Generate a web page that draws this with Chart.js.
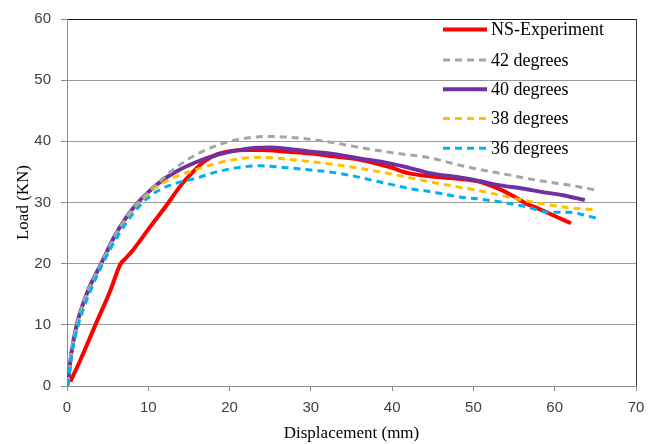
<!DOCTYPE html>
<html>
<head>
<meta charset="utf-8">
<script src="https://cdn.jsdelivr.net/npm/chart.js@4.4.1/dist/chart.umd.min.js"></script>
<style>
  html, body { margin: 0; padding: 0; background: #fff; }
  #wrap { width: 659px; height: 444px; }
</style>
</head>
<body>
<div id="wrap"><canvas id="loadChart" width="659" height="444"></canvas></div>
<script>
// load - displacement curves
const seriesNames = ['NS-Experiment', '42 degrees', '40 degrees', '38 degrees', '36 degrees'];

const expX = [0.4, 1.5, 3.5, 5.3, 6.6, 7.1, 8.1, 10, 12.5, 14, 15.5, 17, 18.5, 20, 22, 24, 27, 30, 33, 36, 39.7, 42, 44.6, 47, 50.4, 53, 55, 56.5, 58, 60, 62];
const expY = [0.7, 3.8, 10, 15.5, 20, 20.7, 22.2, 25.6, 30, 32.8, 35, 36.8, 37.9, 38.4, 38.6, 38.6, 38.3, 38, 37.5, 37, 35.8, 34.8, 34.3, 34, 33.5, 32.3, 31, 29.8, 29, 27.8, 26.6];

const deg42X = [0.1, 0.5, 1.2, 2.5, 4.2, 5.9, 7, 8.4, 10, 11.6, 13.5, 15.7, 18.4, 21, 24.6, 28, 32.7, 36, 39.7, 44.6, 48.3, 50.4, 54, 58, 62, 65.2];
const deg42Y = [0.3, 5, 10, 15.3, 20, 24.6, 27, 29.5, 31.7, 33.7, 35.8, 37.7, 39.3, 40.3, 40.8, 40.6, 39.8, 39, 38.2, 37.3, 36.1, 35.5, 34.6, 33.6, 32.8, 32];

const deg40X = [0.1, 0.5, 1.2, 2.5, 4.2, 5.9, 7, 8.4, 10, 11.6, 13.5, 15.7, 18.5, 21.3, 23, 25, 27, 30, 32.3, 36, 39.7, 42, 44.6, 48.3, 50.4, 53.3, 56, 58.5, 61, 63.7];
const deg40Y = [0.3, 5, 10, 15.3, 20, 24.6, 27, 29.5, 31.7, 33.5, 35.1, 36.5, 37.8, 38.6, 38.9, 39, 38.8, 38.3, 38, 37.2, 36.4, 35.7, 34.8, 34.1, 33.6, 32.8, 32.3, 31.7, 31.2, 30.4];

const deg38X = [0.1, 0.5, 1.3, 2.6, 4.3, 6, 7.1, 8.5, 10, 11.6, 13.5, 15.7, 18.4, 21, 23.7, 27, 32.3, 36, 39.7, 44.6, 48.3, 50.4, 53.3, 56, 58.5, 62, 65.2];
const deg38Y = [0.3, 5, 10, 15.3, 20, 24.5, 26.9, 29.3, 31.4, 33, 34.3, 35.3, 36.4, 37.1, 37.4, 37.1, 36.3, 35.6, 34.7, 33.4, 32.5, 32, 31.2, 30.4, 29.8, 29.1, 28.8];

const deg36X = [0.1, 0.55, 1.4, 2.8, 4.4, 6.1, 7.3, 8.7, 10, 11.6, 13.5, 15.7, 18.4, 21, 23.7, 27, 30, 32.3, 35, 37, 39.7, 42, 44.6, 48.3, 50.4, 53.3, 56.5, 59.3, 61.9, 63.5, 65.2];
const deg36Y = [0, 5, 10, 15.3, 20, 24.2, 26.7, 29.1, 30.8, 32.2, 33.2, 33.9, 35, 35.7, 36, 35.7, 35.3, 35, 34.4, 33.8, 33, 32.3, 31.8, 30.9, 30.6, 30.1, 29.3, 28.4, 28.4, 28, 27.4];

const xTicks = [0, 10, 20, 30, 40, 50, 60, 70];
const yTicks = [0, 10, 20, 30, 40, 50, 60];

function pairs(xs, ys) {
  return xs.map((x, i) => ({ x: x, y: ys[i] }));
}

const styles = [
  { color: '#ff0000', width: 4, dash: [] },
  { color: '#a5a5a5', width: 3, dash: [7, 5] },
  { color: '#7030a0', width: 4, dash: [] },
  { color: '#ffc000', width: 3, dash: [7, 5] },
  { color: '#00b0f0', width: 3, dash: [7, 5] }
];
const allX = [expX, deg42X, deg40X, deg38X, deg36X];
const allY = [expY, deg42Y, deg40Y, deg38Y, deg36Y];

const datasets = seriesNames.map((name, i) => ({
  label: name,
  data: pairs(allX[i], allY[i]),
  borderColor: styles[i].color,
  backgroundColor: styles[i].color,
  borderWidth: styles[i].width,
  borderDash: styles[i].dash,
  showLine: true,
  pointRadius: 0,
  cubicInterpolationMode: 'monotone',
  fill: false
}));
// draw the experiment on top, like the original
const drawOrder = [4, 1, 3, 2, 0];
datasets.forEach((d, i) => { d.order = drawOrder[i]; });

// legend drawn inside the plot, top right
const insideLegend = {
  id: 'insideLegend',
  afterDatasetsDraw(chart) {
    const ctx = chart.ctx;
    const x0 = 443, x1 = 487, tx = 491;
    const rows = [29.5, 60, 89.3, 118.5, 148.3];
    ctx.save();
    seriesNames.forEach((name, i) => {
      const y = rows[i];
      ctx.beginPath();
      ctx.strokeStyle = styles[i].color;
      ctx.lineWidth = styles[i].width;
      ctx.setLineDash(styles[i].dash);
      ctx.moveTo(x0, y);
      ctx.lineTo(x1, y);
      ctx.stroke();
      ctx.setLineDash([]);
      ctx.fillStyle = '#000';
      ctx.font = '18px "Liberation Serif", "Times New Roman", serif';
      ctx.textBaseline = 'middle';
      ctx.textAlign = 'left';
      ctx.fillText(name, tx, y + 1);
    });
    ctx.restore();
  }
};

const tickFont = { family: '"Liberation Sans", Arial, sans-serif', size: 15 };
const titleFont = { family: '"Liberation Serif", "Times New Roman", serif', size: 17 };

new Chart(document.getElementById('loadChart').getContext('2d'), {
  type: 'scatter',
  data: { datasets: datasets },
  options: {
    responsive: false,
    animation: false,
    layout: { padding: { top: 18, right: 23, left: 0, bottom: 0 } },
    plugins: {
      legend: { display: false },
      tooltip: { enabled: false }
    },
    scales: {
      x: {
        type: 'linear',
        min: 0,
        max: 70,
        afterFit: s => { s.height = 58; },
        afterBuildTicks: s => { s.ticks = xTicks.map(v => ({ value: v })); },
        grid: {
          drawOnChartArea: true,
          color: c => c.tick && c.tick.value === 70 ? '#404040' : 'rgba(0,0,0,0)',
          tickColor: '#8c8c8c',
          tickLength: 5
        },
        border: { color: '#8c8c8c', width: 1 },
        ticks: { color: '#404040', font: tickFont, padding: 8, maxRotation: 0 },
        title: { display: true, text: 'Displacement (mm)', color: '#000', font: titleFont, padding: { top: 2, bottom: 0 } }
      },
      y: {
        type: 'linear',
        min: 0,
        max: 60,
        afterFit: s => { s.width = 67; },
        afterBuildTicks: s => { s.ticks = yTicks.map(v => ({ value: v })); },
        grid: {
          color: c => c.tick && c.tick.value === 60 ? '#1a1a1a' : '#9a9a9a',
          tickColor: '#8c8c8c',
          tickLength: 6
        },
        border: { color: '#8c8c8c', width: 1 },
        ticks: { color: '#404040', font: tickFont, padding: 10 },
        title: { display: true, text: 'Load (KN)', color: '#000', font: titleFont, padding: { top: 13, bottom: 0 } }
      }
    }
  },
  plugins: [insideLegend]
});
</script>
</body>
</html>
